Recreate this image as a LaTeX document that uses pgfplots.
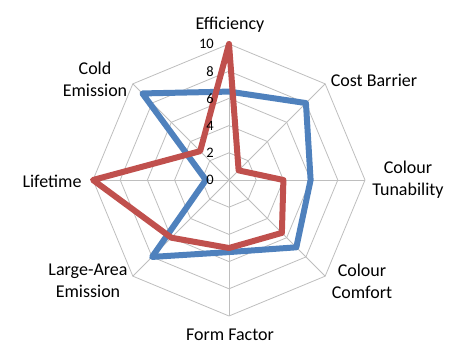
\documentclass[border=0pt]{standalone}
\usepackage{fontspec}
\setmainfont{Carlito}
\usepackage{pgfplots}
\pgfplotsset{compat=1.18}
\usepgfplotslibrary{polar}
\usetikzlibrary{calc}
\definecolor{cblue}{RGB}{79,129,189}
\definecolor{cred}{RGB}{192,80,77}
\definecolor{cgrid}{RGB}{190,190,190}
\begin{document}
\begin{tikzpicture}
\begin{polaraxis}[
  scale only axis, width=272bp, height=272bp,
  xmin=0, xmax=360, ymin=0, ymax=10,
  hide axis, clip=false,
]
% octagonal grid
\addplot[cgrid, line width=0.8bp, mark=none] coordinates {(90,2)(135,2)(180,2)(225,2)(270,2)(315,2)(0,2)(45,2)(90,2)};
\addplot[cgrid, line width=0.8bp, mark=none] coordinates {(90,4)(135,4)(180,4)(225,4)(270,4)(315,4)(0,4)(45,4)(90,4)};
\addplot[cgrid, line width=0.8bp, mark=none] coordinates {(90,6)(135,6)(180,6)(225,6)(270,6)(315,6)(0,6)(45,6)(90,6)};
\addplot[cgrid, line width=0.8bp, mark=none] coordinates {(90,8)(135,8)(180,8)(225,8)(270,8)(315,8)(0,8)(45,8)(90,8)};
\addplot[cgrid, line width=0.8bp, mark=none] coordinates {(90,10)(135,10)(180,10)(225,10)(270,10)(315,10)(0,10)(45,10)(90,10)};
% spokes
\addplot[cgrid, line width=0.8bp, mark=none] coordinates {(0,10)(180,10)};
\addplot[cgrid, line width=0.8bp, mark=none] coordinates {(45,10)(225,10)};
\addplot[cgrid, line width=0.8bp, mark=none] coordinates {(90,10)(270,10)};
\addplot[cgrid, line width=0.8bp, mark=none] coordinates {(135,10)(315,10)};
% series (Efficiency, Cost Barrier, Colour Tunability, Colour Comfort, Form Factor, Large-Area Emission, Lifetime, Cold Emission)
\addplot[cblue, line width=6bp, line join=round, line cap=round, mark=none] coordinates {(90,6.5)(45,8)(0,6)(315,7)(270,5.3)(225,8)(180,1.7)(135,9)(90,6.5)};
\addplot[cred, line width=6bp, line join=round, line cap=round, mark=none] coordinates {(90,10)(45,1)(0,4)(315,5.5)(270,5)(225,6)(180,10)(135,3)(90,10)};
\coordinate (c) at (axis cs:0,0);
\end{polaraxis}
\path[use as bounding box] ($(c)+(-229bp,-175bp)$) rectangle ($(c)+(234bp,180bp)$);
\begin{scope}[every node/.style={font={\fontsize{14.5bp}{16bp}\selectfont}, anchor=east, inner sep=0pt}]
\node at ($(c)+(-15bp,0bp)$) {0};
\node at ($(c)+(-15bp,27.2bp)$) {2};
\node at ($(c)+(-15bp,54.4bp)$) {4};
\node at ($(c)+(-15bp,81.6bp)$) {6};
\node at ($(c)+(-15bp,108.8bp)$) {8};
\node at ($(c)+(-15bp,136bp)$) {10};
\end{scope}
\begin{scope}[every node/.style={font={\fontsize{18bp}{22bp}\selectfont}, align=center, inner sep=0pt}]
\node at ($(c)+(1bp,155bp)$) {Efficiency};
\node at ($(c)+(145bp,100bp)$) {Cost Barrier};
\node at ($(c)+(179bp,0bp)$) {Colour\\Tunability};
\node at ($(c)+(133bp,-101bp)$) {Colour\\Comfort};
\node at ($(c)+(1bp,-155bp)$) {Form Factor};
\node at ($(c)+(-141bp,-101bp)$) {Large-Area\\Emission};
\node at ($(c)+(-177bp,-1bp)$) {Lifetime};
\node at ($(c)+(-134bp,101bp)$) {Cold\\Emission};
\end{scope}
\end{tikzpicture}
\end{document}
